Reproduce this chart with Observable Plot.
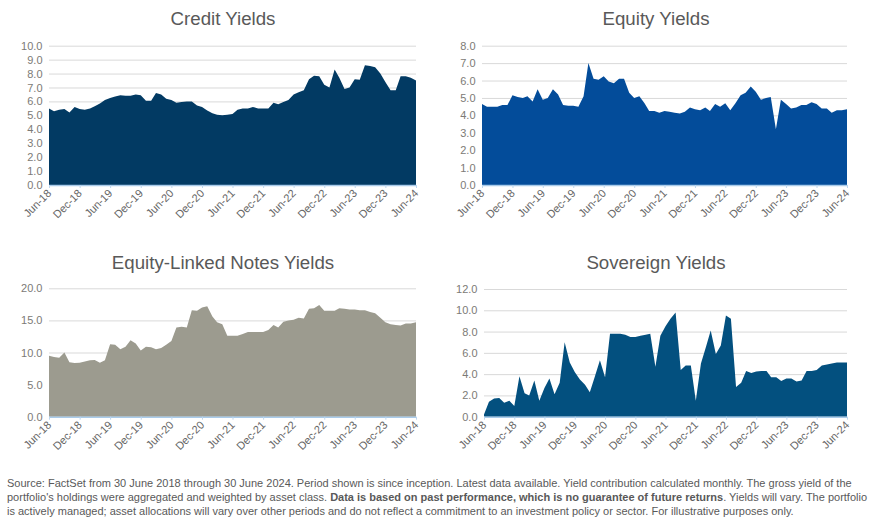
<!DOCTYPE html>
<html>
<head>
<meta charset="utf-8">
<script src="https://cdn.jsdelivr.net/npm/d3@7"></script>
<script src="https://cdn.jsdelivr.net/npm/@observablehq/plot@0.6"></script>
<style>
  html, body { margin: 0; padding: 0; background: #fff; }
  body { width: 870px; height: 530px; position: relative; overflow: hidden; font-family: "Liberation Sans", Arial, sans-serif; }
  .title { position: absolute; width: 300px; text-align: center; font-size: 18.7px; color: #595959; line-height: 20px; }
  .panel { position: absolute; }
  .note { position: absolute; left: 7px; top: 476px; font-size: 11px; line-height: 14px; color: #595959; white-space: nowrap; }
</style>
</head>
<body>
<div class="title" style="left:73px; top:9px;">Credit Yields</div>
<div class="title" style="left:506px; top:9px;">Equity Yields</div>
<div class="title" style="left:73px; top:253px;">Equity-Linked Notes Yields</div>
<div class="title" style="left:506px; top:253px;">Sovereign Yields</div>
<div id="p1" class="panel" style="left:0px; top:35px;"></div>
<div id="p2" class="panel" style="left:435px; top:35px;"></div>
<div id="p3" class="panel" style="left:0px; top:278px;"></div>
<div id="p4" class="panel" style="left:435px; top:278px;"></div>
<div class="note">Source: FactSet from 30 June 2018 through 30 June 2024. Period shown is since inception. Latest data available. Yield contribution calculated monthly. The gross yield of the<br>portfolio's holdings were aggregated and weighted by asset class. <b>Data is based on past performance, which is no guarantee of future returns</b>. Yields will vary. The portfolio<br>is actively managed; asset allocations will vary over other periods and do not reflect a commitment to an investment policy or sector. For illustrative purposes only.</div>
<script>
// Monthly observations, Jun-18 .. Jun-24 (73 months)
const startMonth = "2018-06";
const xTickLabels = ["Jun-18","Dec-18","Jun-19","Dec-19","Jun-20","Dec-20","Jun-21","Dec-21","Jun-22","Dec-22","Jun-23","Dec-23","Jun-24"];

const creditYields = [
  5.5,5.3,5.4,5.45,5.2,5.6,5.45,5.4,5.5,5.65,5.85,6.1,
  6.25,6.35,6.45,6.4,6.4,6.5,6.45,6.05,6.05,6.6,6.5,6.2,
  6.1,5.9,5.95,6.0,6.0,5.7,5.6,5.35,5.15,5.05,5.0,5.05,
  5.1,5.4,5.5,5.5,5.6,5.5,5.5,5.5,5.9,5.8,5.95,6.1,
  6.5,6.65,6.8,7.6,7.85,7.8,7.2,7.0,8.3,7.7,6.9,7.0,
  7.6,7.55,8.6,8.55,8.45,8.0,7.4,6.8,6.8,7.8,7.8,7.7,
  7.5
];
const equityYields = [
  4.65,4.5,4.5,4.5,4.6,4.6,5.15,5.05,5.0,5.1,4.8,5.5,
  4.9,5.0,5.5,5.2,4.6,4.55,4.55,4.5,5.1,7.0,6.1,6.05,
  6.25,5.95,5.85,6.1,6.1,5.3,5.0,5.1,4.7,4.25,4.25,4.15,
  4.25,4.2,4.15,4.1,4.2,4.45,4.35,4.3,4.45,4.25,4.65,4.5,
  4.7,4.3,4.7,5.15,5.3,5.65,5.35,4.9,5.0,5.05,3.2,4.9,
  4.65,4.4,4.45,4.6,4.6,4.75,4.65,4.4,4.4,4.15,4.3,4.3,
  4.35
];
const elnYields = [
  9.5,9.3,9.2,10.0,8.5,8.35,8.4,8.6,8.8,8.85,8.4,8.8,
  11.3,11.2,10.5,10.9,11.9,11.4,10.3,10.9,10.8,10.5,10.7,11.2,
  11.8,13.9,14.0,13.9,16.6,16.5,17.0,17.2,15.6,14.7,14.4,12.6,
  12.6,12.6,12.9,13.2,13.2,13.2,13.2,13.5,14.3,13.9,14.8,15.0,
  15.1,15.4,15.3,16.8,16.9,17.4,16.5,16.5,16.5,16.9,16.8,16.7,
  16.7,16.6,16.6,16.3,16.1,15.4,14.7,14.4,14.3,14.2,14.5,14.5,
  14.7
];
const sovereignYields = [
  0.2,1.4,1.7,1.75,1.3,1.5,1.0,3.8,2.2,2.0,3.4,1.5,
  2.7,3.6,2.1,3.2,7.0,5.1,4.2,3.5,3.0,2.3,3.8,5.3,
  3.7,7.8,7.8,7.8,7.7,7.5,7.5,7.6,7.7,7.8,4.7,7.6,
  8.5,9.2,9.8,4.4,4.8,4.8,1.5,5.0,6.6,8.1,5.9,6.7,
  9.5,9.2,2.8,3.2,4.3,4.1,4.25,4.3,4.3,3.7,3.7,3.35,
  3.6,3.6,3.3,3.4,4.3,4.3,4.4,4.8,4.9,5.0,5.1,5.1,
  5.1
];

const yTicksCredit = [0,1,2,3,4,5,6,7,8,9,10];
const yTicksEquity = [0,1,2,3,4,5,6,7,8];
const yTicksEln = [0,5,10,15,20];
const yTicksSovereign = [0,2,4,6,8,10,12];

const colCredit = "#023a63";
const colEquity = "#034c9a";
const colEln = "#9c9b8f";
const colSovereign = "#03507f";

const t0 = d3.utcParse("%Y-%m")(startMonth);
const toRows = vals => vals.map((v, i) => ({date: d3.utcMonth.offset(t0, i), value: v}));
const tickDates = xTickLabels.map(s => d3.utcParse("%b-%y")(s));
const fmtX = d3.utcFormat("%b-%y");

function panel(el, vals, yTicks, color, o) {
  const rows = toRows(vals);
  const chart = Plot.plot({
    width: o.width,
    height: o.height,
    marginLeft: o.ml,
    marginRight: o.mr,
    marginTop: o.mt,
    marginBottom: o.mb,
    style: {fontFamily: "'Liberation Sans', Arial, sans-serif", background: "transparent", overflow: "visible"},
    x: {type: "utc", domain: [tickDates[0], tickDates[tickDates.length - 1]]},
    y: {domain: [yTicks[0], yTicks[yTicks.length - 1]]},
    marks: [
      Plot.gridY(yTicks, {stroke: "#d9d9d9", strokeOpacity: 1, strokeWidth: 1}),
      Plot.areaY(rows, {x: "date", y: "value", fill: color}),
      Plot.ruleY([0], {stroke: "#a9cbea", strokeWidth: 1.5}),
      Plot.axisY({ticks: yTicks, label: null, tickSize: 0, tickPadding: 7, tickFormat: d => d.toFixed(1), fill: "#7c7a76", fontSize: 11}),
      Plot.axisX({ticks: tickDates, label: null, tickFormat: fmtX, tickRotate: -45, tickSize: 3, tickPadding: 3, stroke: "#bcd6ef", fill: "#666666", fontSize: 11})
    ]
  });
  document.getElementById(el).appendChild(chart);
}

panel("p1", creditYields, yTicksCredit, colCredit, {width: 435, height: 200, ml: 49, mr: 19, mt: 10.7, mb: 50});
panel("p2", equityYields, yTicksEquity, colEquity, {width: 435, height: 200, ml: 47, mr: 23, mt: 10.7, mb: 50});
panel("p3", elnYields, yTicksEln, colEln, {width: 435, height: 190, ml: 49, mr: 19, mt: 10.3, mb: 51.3});
panel("p4", sovereignYields, yTicksSovereign, colSovereign, {width: 435, height: 190, ml: 49, mr: 23, mt: 11, mb: 51.3});
</script>
</body>
</html>
